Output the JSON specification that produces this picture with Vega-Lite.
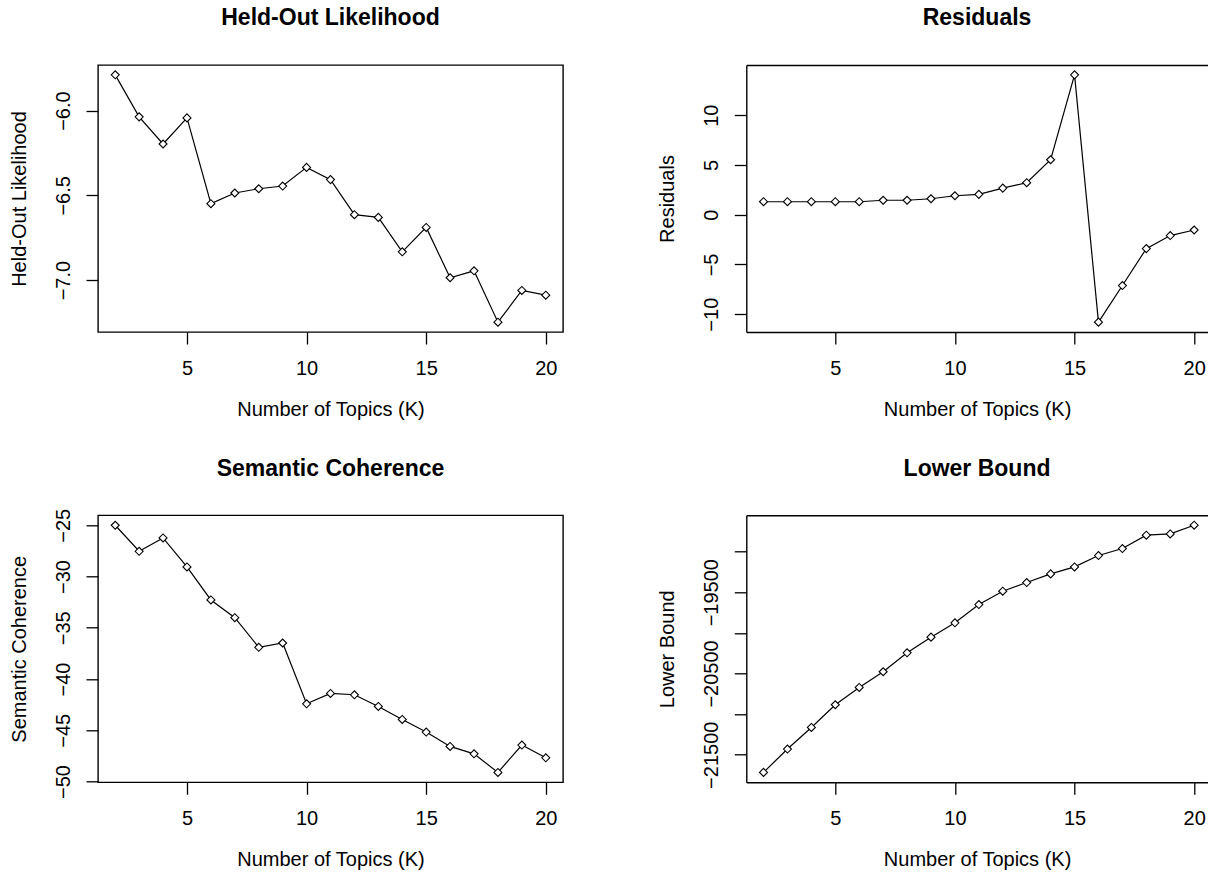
{
  "$schema": "https://vega.github.io/schema/vega-lite/v6.json",
  "background": "white",
  "padding": {"left": 8, "top": 6, "right": 0, "bottom": 0},
  "data": {"values": [
    {"K": 2, "heldout": -5.789, "residuals": 1.30, "semcoh": -25.00, "bound": -21717},
    {"K": 3, "heldout": -6.037, "residuals": 1.30, "semcoh": -27.54, "bound": -21430},
    {"K": 4, "heldout": -6.197, "residuals": 1.30, "semcoh": -26.24, "bound": -21164},
    {"K": 5, "heldout": -6.043, "residuals": 1.30, "semcoh": -29.07, "bound": -20885},
    {"K": 6, "heldout": -6.549, "residuals": 1.30, "semcoh": -32.29, "bound": -20672},
    {"K": 7, "heldout": -6.486, "residuals": 1.45, "semcoh": -34.02, "bound": -20479},
    {"K": 8, "heldout": -6.461, "residuals": 1.45, "semcoh": -36.91, "bound": -20246},
    {"K": 9, "heldout": -6.445, "residuals": 1.60, "semcoh": -36.49, "bound": -20053},
    {"K": 10, "heldout": -6.335, "residuals": 1.90, "semcoh": -42.42, "bound": -19877},
    {"K": 11, "heldout": -6.407, "residuals": 2.04, "semcoh": -41.41, "bound": -19652},
    {"K": 12, "heldout": -6.614, "residuals": 2.67, "semcoh": -41.54, "bound": -19488},
    {"K": 13, "heldout": -6.630, "residuals": 3.21, "semcoh": -42.68, "bound": -19381},
    {"K": 14, "heldout": -6.833, "residuals": 5.52, "semcoh": -43.95, "bound": -19275},
    {"K": 15, "heldout": -6.689, "residuals": 14.05, "semcoh": -45.18, "bound": -19189},
    {"K": 16, "heldout": -6.986, "residuals": -10.80, "semcoh": -46.58, "bound": -19049},
    {"K": 17, "heldout": -6.945, "residuals": -7.12, "semcoh": -47.30, "bound": -18963},
    {"K": 18, "heldout": -7.248, "residuals": -3.41, "semcoh": -49.12, "bound": -18799},
    {"K": 19, "heldout": -7.061, "residuals": -2.10, "semcoh": -46.45, "bound": -18783},
    {"K": 20, "heldout": -7.089, "residuals": -1.54, "semcoh": -47.69, "bound": -18676}
  ]},
  "columns": 2,
  "spacing": 183.3,
  "bounds": "flush",
  "concat": [
    {
      "title": "Held-Out Likelihood",
      "width": 465, "height": 267,
      "view": {"stroke": "black", "strokeWidth": 1.4},
      "encoding": {
        "x": {"field": "K", "type": "quantitative", "scale": {"domain": [1.28, 20.72], "nice": false, "zero": false},
              "axis": {"values": [5, 10, 15, 20], "title": "Number of Topics (K)", "domain": false}},
        "y": {"field": "heldout", "type": "quantitative", "scale": {"domain": [-7.306, -5.731], "nice": false, "zero": false},
              "axis": {"values": [-7, -6.5, -6], "format": ".1f", "title": "Held-Out Likelihood", "domain": false}}
      },
      "layer": [
        {"mark": {"type": "line", "color": "black", "strokeWidth": 1.2}},
        {"mark": {"type": "point", "shape": "diamond", "size": 64, "filled": true, "fill": "white", "stroke": "black", "strokeWidth": 1.1, "opacity": 1}}
      ]
    },
    {
      "title": "Residuals",
      "width": 461.5, "height": 267,
      "view": {"stroke": null},
      "layer": [
        {
          "mark": {"type": "line", "color": "black", "strokeWidth": 1.2},
          "encoding": {
            "x": {"field": "K", "type": "quantitative", "scale": {"domain": [1.28, 20.57], "nice": false, "zero": false},
                  "axis": {"values": [5, 10, 15, 20], "title": "Number of Topics (K)", "domain": true}},
            "y": {"field": "residuals", "type": "quantitative", "scale": {"domain": [-11.79, 15.04], "nice": false, "zero": false},
                  "axis": {"values": [-10, -5, 0, 5, 10], "title": "Residuals", "domain": true}}
          }
        },
        {
          "mark": {"type": "point", "shape": "diamond", "size": 64, "filled": true, "fill": "white", "stroke": "black", "strokeWidth": 1.1, "opacity": 1},
          "encoding": {
            "x": {"field": "K", "type": "quantitative",
                  "axis": {"orient": "top", "labels": false, "ticks": false, "title": null, "domain": true}},
            "y": {"field": "residuals", "type": "quantitative"}
          }
        }
      ],
      "resolve": {"axis": {"x": "independent"}}
    },
    {
      "title": {"text": "Semantic Coherence", "offset": 27},
      "width": 465, "height": 267,
      "view": {"stroke": "black", "strokeWidth": 1.4},
      "encoding": {
        "x": {"field": "K", "type": "quantitative", "scale": {"domain": [1.28, 20.72], "nice": false, "zero": false},
              "axis": {"values": [5, 10, 15, 20], "title": "Number of Topics (K)", "domain": false}},
        "y": {"field": "semcoh", "type": "quantitative", "scale": {"domain": [-50.08, -24.03], "nice": false, "zero": false},
              "axis": {"values": [-50, -45, -40, -35, -30, -25], "title": "Semantic Coherence", "domain": false}}
      },
      "layer": [
        {"mark": {"type": "line", "color": "black", "strokeWidth": 1.2}},
        {"mark": {"type": "point", "shape": "diamond", "size": 64, "filled": true, "fill": "white", "stroke": "black", "strokeWidth": 1.1, "opacity": 1}}
      ]
    },
    {
      "title": "Lower Bound",
      "width": 461.5, "height": 267,
      "view": {"stroke": null},
      "layer": [
        {
          "mark": {"type": "line", "color": "black", "strokeWidth": 1.2},
          "encoding": {
            "x": {"field": "K", "type": "quantitative", "scale": {"domain": [1.28, 20.57], "nice": false, "zero": false},
                  "axis": {"values": [5, 10, 15, 20], "title": "Number of Topics (K)", "domain": true}},
            "y": {"field": "bound", "type": "quantitative", "scale": {"domain": [-21839, -18554], "nice": false, "zero": false},
                  "axis": {"values": [-21500, -21000, -20500, -20000, -19500, -19000], "format": "d",
                           "labelExpr": "datum.value % 1000 == 0 ? '' : datum.label", "title": "Lower Bound", "domain": true}}
          }
        },
        {
          "mark": {"type": "point", "shape": "diamond", "size": 64, "filled": true, "fill": "white", "stroke": "black", "strokeWidth": 1.1, "opacity": 1},
          "encoding": {
            "x": {"field": "K", "type": "quantitative",
                  "axis": {"orient": "top", "labels": false, "ticks": false, "title": null, "domain": true}},
            "y": {"field": "bound", "type": "quantitative"}
          }
        }
      ],
      "resolve": {"axis": {"x": "independent"}}
    }
  ],
  "config": {
    "font": "Liberation Sans",
    "title": {"font": "Liberation Sans", "fontSize": 23, "fontWeight": "bold", "color": "black", "anchor": "middle", "frame": "group", "offset": 34.7, "baseline": "alphabetic"},
    "axis": {
      "grid": false,
      "domainColor": "black", "domainWidth": 1.4,
      "tickColor": "black", "tickWidth": 1.3, "tickSize": 12,
      "labelColor": "black", "labelFont": "Liberation Sans", "labelFontSize": 20,
      "titleColor": "black", "titleFont": "Liberation Sans", "titleFontSize": 20, "titleFontWeight": "normal",
      "labelFlush": false, "labelOverlap": false
    },
    "axisX": {"labelPadding": 14.6, "titleY": 67.6, "titleBaseline": "top"},
    "axisY": {"labelAngle": -90, "labelAlign": "center", "labelBaseline": "alphabetic", "labelPadding": 17, "titleX": -73, "titleBaseline": "alphabetic", "titleAngle": -90}
  }
}
